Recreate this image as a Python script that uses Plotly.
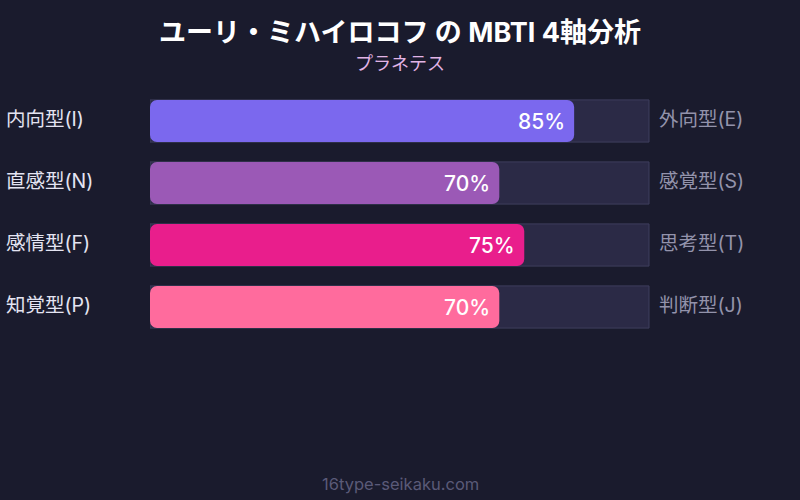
import plotly.graph_objects as go

title = "ユーリ・ミハイロコフ の MBTI 4軸分析"
subtitle = "プラネテス"
footer = "16type-seikaku.com"
left_labels = ["内向型(I)", "直感型(N)", "感情型(F)", "知覚型(P)"]
right_labels = ["外向型(E)", "感覚型(S)", "思考型(T)", "判断型(J)"]
values = [85, 70, 75, 70]
colors = ["#7b68ee", "#9b59b6", "#e91e8c", "#ff6b9d"]
track_max = [100, 100, 100, 100]

FONT = "Inter, 'Noto Sans CJK JP', sans-serif"
BG = "#1a1b2d"
rows = list(range(len(values)))
zero_base = [0 for _ in values]

fig = go.Figure()
fig.add_trace(go.Bar(
    x=track_max, y=rows, orientation="h", width=0.68,
    marker=dict(color="#2b2a46", line=dict(color="#3f3e5e", width=1), cornerradius=0),
    hoverinfo="skip", showlegend=False,
))
fig.add_trace(go.Bar(
    x=values, base=zero_base, y=rows, orientation="h", width=0.68,
    marker=dict(color=colors, line=dict(width=0), cornerradius=7),
    showlegend=False,
))

annotations = []
for i, (v, l, r) in enumerate(zip(values, left_labels, right_labels)):
    annotations.append(dict(x=v, y=i, xref="x", yref="y", text=f"{v}%",
                            showarrow=False, xanchor="right", xshift=-7,
                            font=dict(family=FONT, size=21, color="#ffffff", weight=500)))
    annotations.append(dict(x=0, y=i, xref="paper", yref="y", text=l, yshift=2,
                            showarrow=False, xanchor="left", xshift=-146,
                            font=dict(family=FONT, size=19.5, color="#e4e4f2")))
    annotations.append(dict(x=1, y=i, xref="paper", yref="y", text=r, yshift=2,
                            showarrow=False, xanchor="left", xshift=7,
                            font=dict(family=FONT, size=19.5, color="#9393ab")))

annotations.append(dict(x=0.5, y=32, xref="paper", yref="paper", text=title, showarrow=False,
                        font=dict(family=FONT, size=27, color="#ffffff", weight=700)))
annotations.append(dict(x=0.5, y=63, xref="paper", yref="paper", text=subtitle, showarrow=False,
                        font=dict(family=FONT, size=18, color="#e2b4e6")))
annotations.append(dict(x=0.5, y=484, xref="paper", yref="paper", text=footer, showarrow=False,
                        font=dict(family=FONT, size=16.5, color="#5a5a78")))

plot_top, plot_bottom = 90, 338
for a in annotations[-3:]:
    py = a["y"]
    a["y"] = (plot_bottom - py) / (plot_bottom - plot_top)
    a["yanchor"] = "middle"

fig.update_layout(
    width=800, height=500,
    margin=dict(l=150, r=150, t=plot_top, b=500 - plot_bottom),
    paper_bgcolor=BG, plot_bgcolor=BG,
    barmode="overlay",
    xaxis=dict(range=[0, 100.2], visible=False, fixedrange=True),
    yaxis=dict(range=[3.5, -0.5], visible=False, fixedrange=True),
    annotations=annotations,
    font=dict(family=FONT),
)

fig.write_html("out.html")
